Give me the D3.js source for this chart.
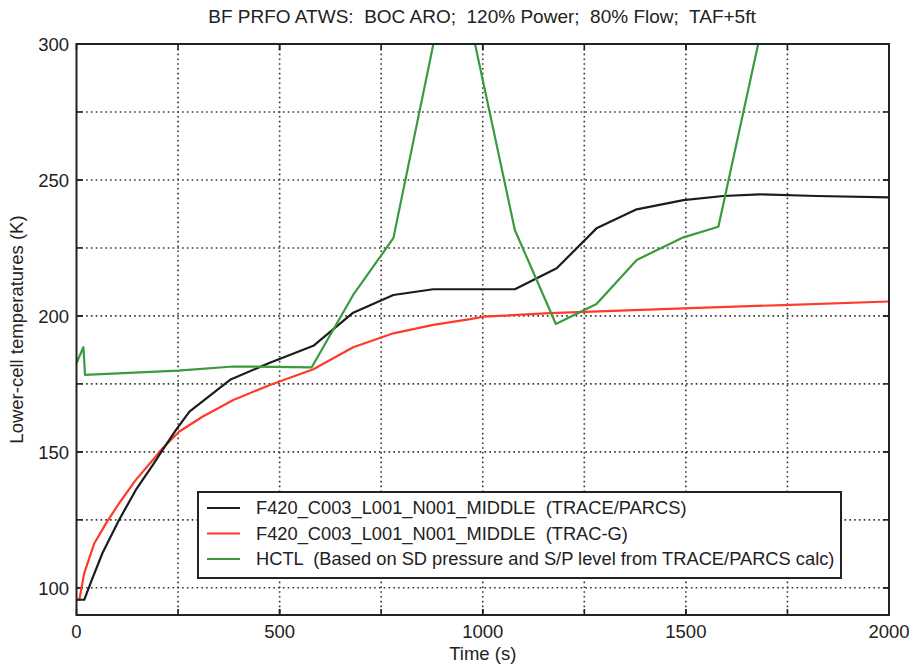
<!DOCTYPE html>
<html><head><meta charset="utf-8">
<script src="https://cdn.jsdelivr.net/npm/d3@7"></script>
<style>
html,body{margin:0;padding:0;background:#fff;}
text{font-family:"Liberation Sans",Arial,sans-serif;fill:#222;white-space:pre;}
</style></head>
<body><svg id="chart" width="915" height="669"></svg>
<script>
const titleText = "BF PRFO ATWS:  BOC ARO;  120% Power;  80% Flow;  TAF+5ft";
const xLabel = "Time (s)";
const yLabel = "Lower-cell temperatures (K)";
const xTicks = [0, 500, 1000, 1500, 2000];
const yTicks = [100, 150, 200, 250, 300];
const xGrid = [250, 500, 750, 1000, 1250, 1500, 1750];
const yGrid = [100, 125, 150, 175, 200, 225, 250, 275];

const seriesNames = [
  "F420_C003_L001_N001_MIDDLE  (TRACE/PARCS)",
  "F420_C003_L001_N001_MIDDLE  (TRAC-G)",
  "HCTL  (Based on SD pressure and S/P level from TRACE/PARCS calc)"
];
const seriesColors = ["#1c1c1c", "#ff3a2a", "#3a9a3c"];

const traceParcsT = [0, 19, 36, 64, 105, 146, 188, 212, 245, 278, 378, 476, 583, 681, 780, 878, 1079, 1182, 1280, 1379, 1494, 1592, 1682, 1822, 2000];
const traceParcsV = [95.6, 95.6, 102.3, 112.8, 125, 136, 145.2, 150.7, 158.1, 164.8, 176.5, 182.8, 189, 201.2, 207.7, 209.8, 209.8, 217.5, 232.2, 239.2, 242.6, 244.1, 244.7, 244.1, 243.6];

const tracGT = [0, 7, 19, 44, 73, 105, 146, 188, 212, 253, 311, 386, 476, 583, 681, 780, 878, 969, 1001, 1165, 1494, 1740, 2000];
const tracGV = [95.6, 95.6, 105.4, 116.4, 123.8, 131.1, 139.7, 147, 151.3, 157.5, 163, 169.1, 174.6, 180.4, 188.5, 193.6, 196.7, 198.8, 199.7, 201, 202.8, 204, 205.3];

const hctlT = [0, 17, 21, 250, 386, 579, 681, 780, 878, 930, 981, 1079, 1180, 1280, 1379, 1494, 1580, 1678, 1710];
const hctlV = [182.6, 188.5, 178.3, 179.9, 181.4, 181.1, 207.7, 228.6, 299.6, 336, 300, 231.6, 197, 204.4, 220.6, 228.9, 232.8, 300, 322];

const series = [
  traceParcsT.map((t, i) => [t, traceParcsV[i]]),
  tracGT.map((t, i) => [t, tracGV[i]]),
  hctlT.map((t, i) => [t, hctlV[i]])
];

const svg = d3.select("#chart");
const L = 76.5, R = 889, T = 44, B = 615;
const x = d3.scaleLinear().domain([0, 2000]).range([L, R]);
const y = d3.scaleLinear().domain([90, 300]).range([B, T]);

// grid
const grid = svg.append("g").attr("stroke", "#333").attr("stroke-width", 1.6).attr("stroke-dasharray", "1.6,3.2");
grid.selectAll(".gx").data(xGrid).join("line")
  .attr("x1", d => x(d)).attr("x2", d => x(d)).attr("y1", T).attr("y2", B);
grid.selectAll(".gy").data(yGrid).join("line")
  .attr("y1", d => y(d)).attr("y2", d => y(d)).attr("x1", L).attr("x2", R);

// ticks (inward)
const tk = svg.append("g").attr("stroke", "#222").attr("stroke-width", 1.6);
xTicks.concat(xGrid).forEach(v => {
  tk.append("line").attr("x1", x(v)).attr("x2", x(v)).attr("y1", B).attr("y2", B - 6);
  tk.append("line").attr("x1", x(v)).attr("x2", x(v)).attr("y1", T).attr("y2", T + 6);
});
yGrid.concat(yTicks).forEach(v => {
  tk.append("line").attr("y1", y(v)).attr("y2", y(v)).attr("x1", L).attr("x2", L + 6);
  tk.append("line").attr("y1", y(v)).attr("y2", y(v)).attr("x1", R).attr("x2", R - 6);
});

// clip
svg.append("clipPath").attr("id", "clip").append("rect")
  .attr("x", L).attr("y", T).attr("width", R - L).attr("height", B - T);

const line = d3.line().x(d => x(d[0])).y(d => y(d[1]));
const lines = svg.append("g").attr("clip-path", "url(#clip)");
[1, 0, 2].forEach(i => {
  lines.append("path").datum(series[i])
    .attr("d", line).attr("fill", "none")
    .attr("stroke", seriesColors[i]).attr("stroke-width", 2.2)
    .attr("stroke-linejoin", "round");
});

// frame
svg.append("rect").attr("x", L).attr("y", T).attr("width", R - L).attr("height", B - T)
  .attr("fill", "none").attr("stroke", "#222").attr("stroke-width", 2);

// axes labels
const fs = 18.5;
svg.selectAll(".xt").data(xTicks).join("text")
  .attr("x", d => x(d)).attr("y", 638).attr("text-anchor", "middle")
  .attr("font-size", fs).text(d => d);
svg.selectAll(".yt").data(yTicks).join("text")
  .attr("x", 69).attr("y", d => y(d) + 6.7).attr("text-anchor", "end")
  .attr("font-size", fs).text(d => d);

svg.append("text").attr("x", (L + R) / 2).attr("y", 660).attr("text-anchor", "middle")
  .attr("font-size", fs).text(xLabel);
svg.append("text").attr("transform", `translate(22.5,${(T + B) / 2}) rotate(-90)`)
  .attr("text-anchor", "middle").attr("font-size", fs).text(yLabel);
svg.append("text").attr("x", 482).attr("y", 23.3).attr("text-anchor", "middle")
  .attr("font-size", 19).text(titleText);

// legend
const lg = svg.append("g");
lg.append("rect").attr("x", 198).attr("y", 492).attr("width", 643).attr("height", 86)
  .attr("fill", "#fff").attr("stroke", "#222").attr("stroke-width", 2);
const rows = [508, 533.5, 559];
seriesNames.forEach((n, i) => {
  lg.append("line").attr("x1", 207).attr("x2", 240).attr("y1", rows[i]).attr("y2", rows[i])
    .attr("stroke", seriesColors[i]).attr("stroke-width", 2.2);
  lg.append("text").attr("x", 256).attr("y", rows[i] + 6.3).attr("font-size", 18.3).text(n);
});
</script>
</body></html>
